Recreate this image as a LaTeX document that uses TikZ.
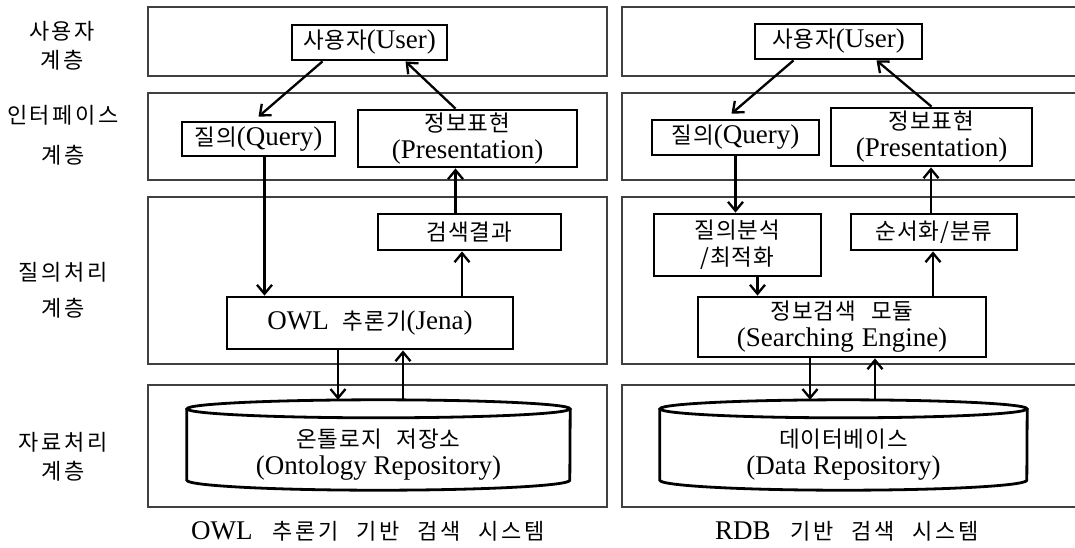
\documentclass[tikz,border=0pt]{standalone}
\usepackage{fontspec}
\setmainfont{Liberation Serif}
\newfontfamily\krfont[LetterSpace=4]{Noto Sans CJK KR}
\newfontfamily\krwide[LetterSpace=12]{Noto Sans CJK KR}
\newcommand{\hg}[1]{{\krfont\fontsize{22.5}{27}\selectfont\spaceskip=15pt plus 2pt\relax #1}}
\newcommand{\hgw}[1]{{\krwide\fontsize{22}{29}\selectfont\spaceskip=18pt plus 2pt\relax #1}}
\usepackage{tikz}
\usetikzlibrary{arrows.meta}

\tikzset{
  tier/.style={draw=black!75, line width=1.6pt},
  box/.style={draw, line width=2.8pt, inner sep=0pt, align=center, font=\fontsize{27}{27}\selectfont},
  dbtext/.style={inner sep=0pt, align=center, font=\fontsize{27}{27}\selectfont},
  db/.style={line width=2.8pt},
  arr/.style={-{Straight Barb[length=9pt,width=15pt]}, line width=2.3pt},
  layername/.style={align=center, font=\fontsize{27}{29}\selectfont},
  systitle/.style={font=\fontsize{27}{29}\selectfont}
}

\begin{document}
\begin{tikzpicture}[x=1pt, y=1pt]
\useasboundingbox (0,0) rectangle (1075,-547);
\clip (0,0) rectangle (1075,-547);
% layers
\foreach \t/\b in {7/76, 93/180, 197/364, 385/507} {
  \draw[tier] (148,-\t) rectangle (607,-\b);
  \draw[tier] (622,-\t) rectangle (1090,-\b);
}
\node[layername] (L1) at (62,-46) {\hgw{사용자}\\\hgw{계층}};
\node[layername] (L2) at (63,-135) {\hgw{인터페이스}\\[11pt]\hgw{계층}};
\node[layername] (L3) at (63,-290) {\hgw{질의처리}\\[7pt]\hgw{계층}};
\node[layername] (L4) at (63,-457) {\hgw{자료처리}\\\hgw{계층}};
% OWL
\node[box, minimum width=155pt, minimum height=35pt] (U1) at (369.5,-42.5) {\hg{사용자}(User)};
\node[box, minimum width=153pt, minimum height=34pt] (Q1) at (258.5,-139) {\hg{질의}(Query)};
\node[box, minimum width=219pt, minimum height=57pt] (P1) at (467.5,-138.5) {\hg{정보표현}\\(Presentation)};
\node[box, minimum width=183pt, minimum height=36pt] (R1) at (469.5,-232) {\hg{검색결과}};
\node[box, minimum width=286pt, minimum height=52pt] (O1) at (370,-323) {OWL\hspace{14pt}\hg{추론기}(Jena)};
\node[dbtext, minimum width=383pt, minimum height=110pt] (D1) at (378.5,-455) {\hg{온톨로지 저장소}\\(Ontology Repository)};
\draw[db] ([yshift=-9pt]D1.north) ellipse [x radius=191.5pt, y radius=9pt];
\draw[db] ([yshift=-9pt]D1.north west) -- ([yshift=30pt]D1.south west)
  arc [start angle=180, end angle=360, x radius=191.5pt, y radius=10pt] -- ([yshift=-9pt]D1.north east);
\draw[arr] ([xshift=-47pt]U1.south) -- ([yshift=4pt]Q1.north);
\draw[arr] ([xshift=-12pt]P1.north) -- ([xshift=36pt]U1.south);
\draw[arr] ([xshift=6pt]Q1.south) -- ([xshift=6pt]Q1.south |- O1.north);
\draw[arr] ([xshift=-14pt]R1.north) -- ([xshift=-14pt]R1.north |- P1.south);
\draw[arr] ([xshift=92pt]O1.north) -- ([xshift=92pt]O1.north |- R1.south);
\draw[arr] ([xshift=-32pt]O1.south) -- ([xshift=-32pt]O1.south |- D1.north);
\draw[arr] ([xshift=33pt]O1.south |- D1.north) -- ([xshift=33pt]O1.south);
% RDB
\node[box, minimum width=167pt, minimum height=35pt] (U2) at (838.5,-41.5) {\hg{사용자}(User)};
\node[box, minimum width=167pt, minimum height=35pt] (Q2) at (735.5,-137.5) {\hg{질의}(Query)};
\node[box, minimum width=201pt, minimum height=58pt] (P2) at (931.5,-137) {\hg{정보표현}\\(Presentation)};
\node[box, minimum width=167pt, minimum height=62pt] (A2) at (737.5,-245) {\hg{질의분석}\\\hg{/최적화}};
\node[box, minimum width=166pt, minimum height=36pt] (S2) at (934,-232) {\hg{순서화/분류}};
\node[box, minimum width=288pt, minimum height=60pt] (M2) at (842,-327) {\hg{정보검색 모듈}\\(Searching\hspace{8pt}Engine)};
\node[dbtext, minimum width=367pt, minimum height=110pt] (D2) at (843.5,-455) {\hg{데이터베이스}\\(Data Repository)};
\draw[db] ([yshift=-9pt]D2.north) ellipse [x radius=183.5pt, y radius=9pt];
\draw[db] ([yshift=-9pt]D2.north west) -- ([yshift=30pt]D2.south west)
  arc [start angle=180, end angle=360, x radius=183.5pt, y radius=10pt] -- ([yshift=-9pt]D2.north east);
\draw[arr] ([xshift=-45pt]U2.south) -- ([xshift=-4pt,yshift=5pt]Q2.north);
\draw[arr] (P2.north) -- ([xshift=38pt]U2.south);
\draw[arr] (Q2.south) -- (Q2.south |- A2.north);
\draw[arr] ([xshift=20pt]A2.south) -- ([xshift=20pt]A2.south |- M2.north);
\draw[arr] ([xshift=91pt]M2.north) -- ([xshift=91pt]M2.north |- S2.south);
\draw[arr] ([xshift=-3pt]S2.north) -- ([xshift=-3pt]S2.north |- P2.south);
\draw[arr] ([xshift=-32pt]M2.south) -- ([xshift=-32pt]M2.south |- D2.north);
\draw[arr] ([xshift=33pt]M2.south |- D2.north) -- ([xshift=33pt]M2.south);
% captions
\node[systitle] (T1) at (368,-531) {OWL\hspace{20pt}\hgw{추론기 기반 검색 시스템}};
\node[systitle] (T2) at (847,-531) {RDB\hspace{20pt}\hgw{기반 검색 시스템}};
\end{tikzpicture}
\end{document}
